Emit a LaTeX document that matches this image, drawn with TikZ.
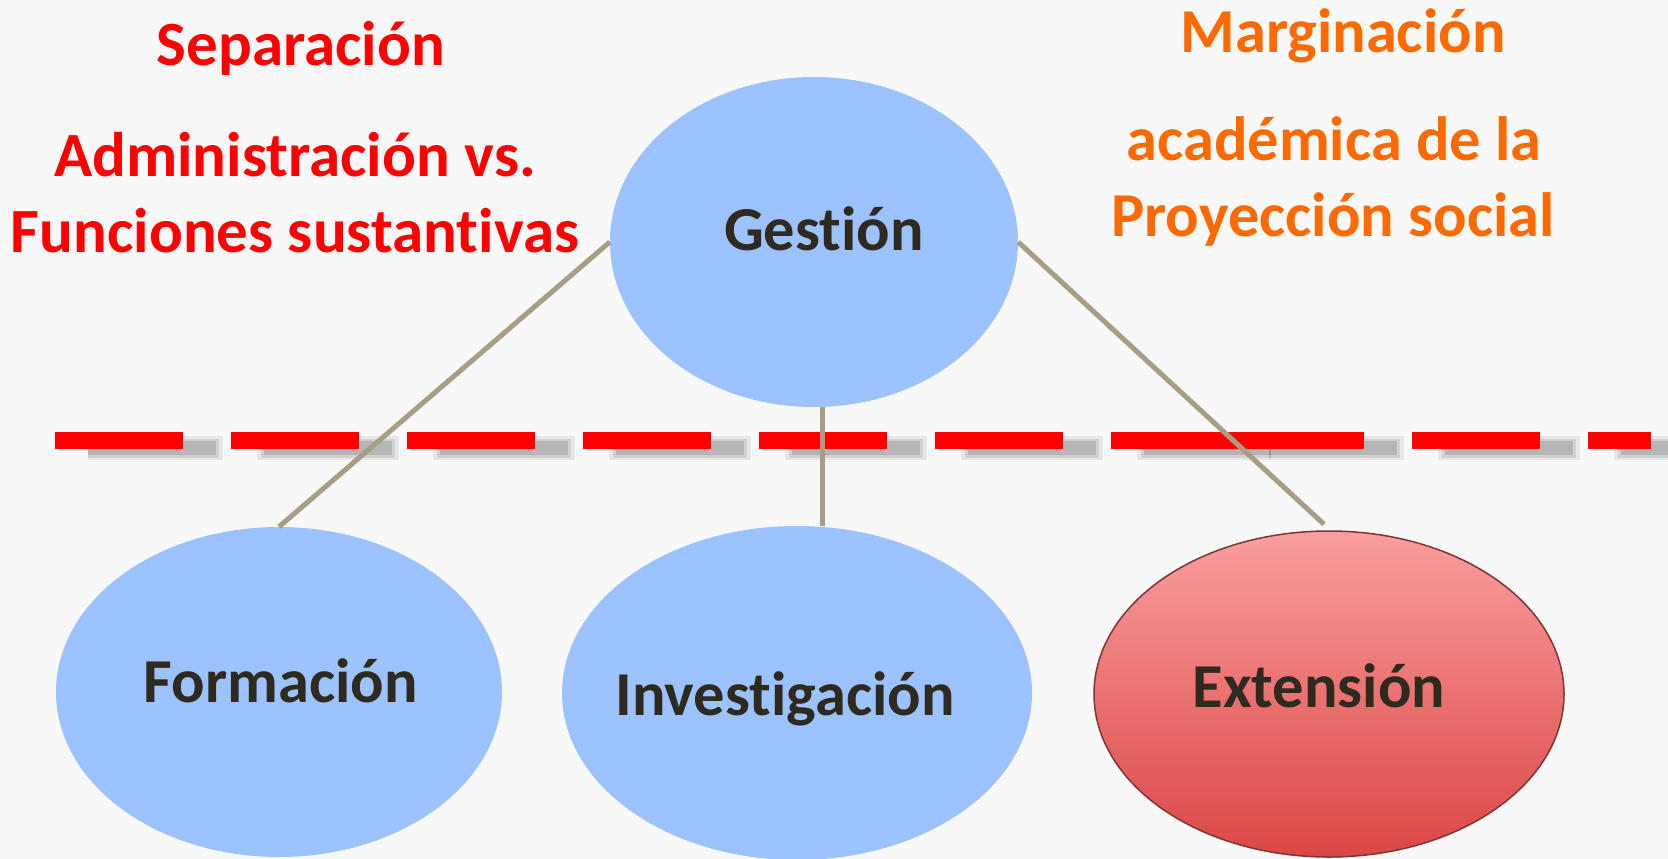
\documentclass[tikz,border=0pt]{standalone}
\usepackage{fontspec}
\setmainfont{Carlito}[Ligatures=NoCommon]
\usetikzlibrary{shapes.geometric}
\definecolor{bg}{HTML}{F8F8F8}
\definecolor{bluefill}{HTML}{9CC2FF}
\definecolor{linetan}{HTML}{A89E85}
\definecolor{txtdark}{HTML}{2E2A1F}
\definecolor{redtxt}{HTML}{FF0000}
\definecolor{orangetxt}{HTML}{FF6A00}
\definecolor{redtop}{HTML}{FA9E9E}
\definecolor{redbot}{HTML}{DC4646}
\definecolor{rededge}{HTML}{7E3535}
\definecolor{shadowgray}{HTML}{707070}
\begin{document}
\begin{tikzpicture}[x=1pt,y=-1pt,
  bub/.style={ellipse, inner sep=0pt, draw=none, fill=bluefill},
  lbl/.style={font=\bfseries\fontsize{62.5}{74}\selectfont, text=txtdark, inner sep=0pt, anchor=base},
  redlbl/.style={font=\bfseries\fontsize{63}{74}\selectfont, text=redtxt, inner sep=0pt, anchor=base},
  orglbl/.style={font=\bfseries\fontsize{62.5}{74}\selectfont, text=orangetxt, inner sep=0pt, anchor=base},
  conn/.style={draw=linetan, line width=5pt},
  sepline/.style={draw=redtxt, line width=17pt, dash pattern=on 127.7pt off 48.3pt},
  shA/.style={draw=shadowgray, line width=24pt, opacity=0.12, dash pattern=on 141.7pt off 34.3pt, dash phase=7pt},
  shB/.style={draw=shadowgray, line width=19pt, opacity=0.18, dash pattern=on 134.7pt off 41.3pt, dash phase=3.5pt},
  shC/.style={draw=shadowgray, line width=14pt, opacity=0.28, dash pattern=on 127.7pt off 48.3pt}
]
\fill[bg] (0,0) rectangle (1668,859);
\useasboundingbox (0,0) rectangle (1668,859);

% separation line with soft shadow
\foreach \s in {shA,shB,shC}{
  \draw[\s] (88,448) -- (1271,448);
  \draw[\s] (1269,448) -- (1690,448);
}
\draw[sepline] (55,440) -- (1238,440);
\draw[sepline] (1236,440) -- (1651,440);

% ellipses
\node[bub, minimum width=408pt, minimum height=330pt] (g) at (814,242) {};
\node[bub, minimum width=446pt, minimum height=330pt] (f) at (279,692) {};
\node[bub, minimum width=470pt, minimum height=334pt] (i) at (797,693) {};
\node[ellipse, inner sep=0pt, minimum width=470pt, minimum height=326pt,
  top color=redtop, bottom color=redbot, draw=rededge, line width=1.5pt] (e) at (1329,694) {};

% connectors
\draw[conn] (g.west) -- (f.north);
\draw[conn] ([xshift=8pt]g.south) -- ([xshift=25pt]i.north);
\draw[conn] (g.east) -- ([xshift=-5pt,yshift=6pt]e.north);

% labels in ellipses
\node[lbl] (gl) at (824,250) {Gestión};
\node[lbl] (fl) at (281,702) {Formación};
\node[lbl] (il) at (785,715) {Investigación};
\node[lbl] (el) at (1319,707) {Extensión};

% side texts
\node[redlbl] (sep) at (301,66) {Separación};
\node[redlbl] (adm) at (295,176) {Administración vs.};
\node[redlbl] (fun) at (295,252) {Funciones sustantivas};
\node[orglbl] (mar) at (1343,53) {Marginación};
\node[orglbl] (aca) at (1334,160) {académica de la};
\node[orglbl] (pro) at (1333,236) {Proyección social};
\end{tikzpicture}
\end{document}
